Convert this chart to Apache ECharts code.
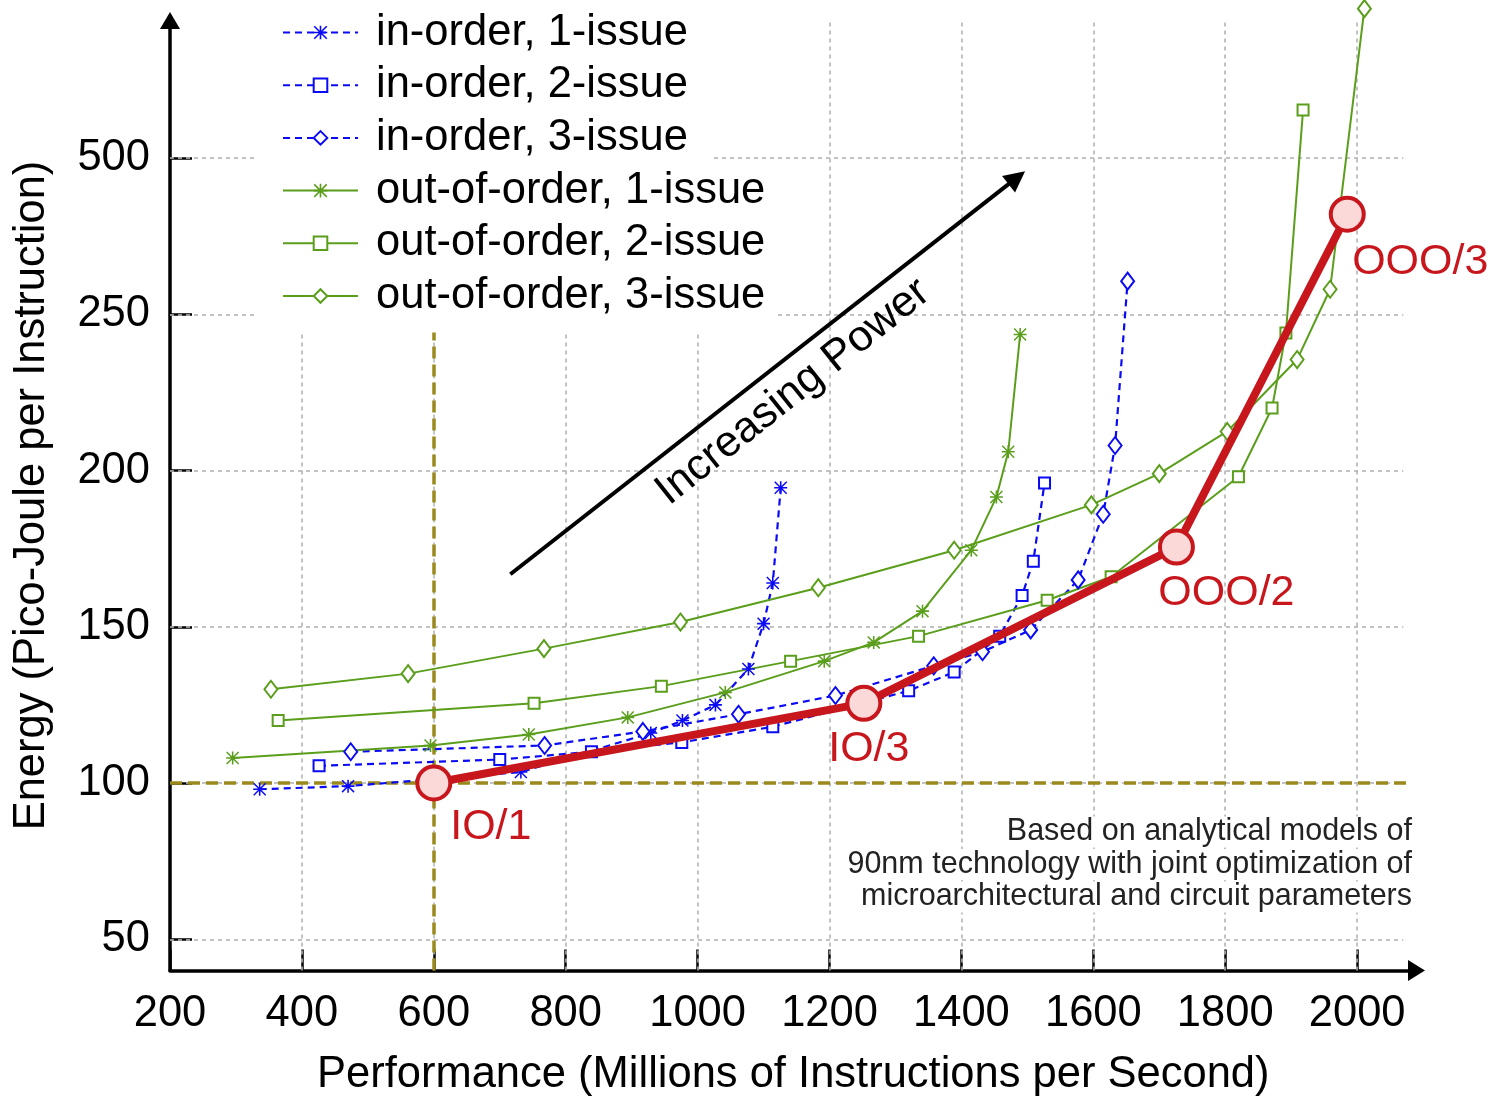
<!DOCTYPE html>
<html><head><meta charset="utf-8">
<script src="https://cdn.jsdelivr.net/npm/echarts@6.0.0/dist/echarts.min.js"></script>
<style>html,body{margin:0;padding:0;background:#fff}#chart{width:1495px;height:1097px}</style>
</head><body><div id="chart"></div>
<script>
// ---- data (MIPS, pJ/instruction) ----
const ioIssue1Mips   = [336, 470, 732, 929, 977, 1027, 1077, 1100, 1114, 1126];
const ioIssue1Energy = [98, 99, 103.5, 116, 120, 125, 136.5, 151, 164, 194.5];
const ioIssue2Mips   = [426, 700, 839, 976, 1114, 1320, 1389, 1458, 1492, 1509, 1526];
const ioIssue2Energy = [105.5, 107.5, 110, 113, 118, 129.5, 135.5, 147, 160, 171, 196];
const ioIssue3Mips   = [474, 768, 917, 1062, 1209, 1358, 1432, 1505, 1577, 1615, 1633, 1652];
const ioIssue3Energy = [110, 112, 116.5, 122, 128, 137.5, 142, 149, 165, 186, 208, 303];
const oooIssue1Mips   = [295, 595, 744, 894, 1042, 1192, 1267, 1341, 1415, 1453, 1471, 1489];
const oooIssue1Energy = [108, 112, 115.5, 121, 129, 139, 145, 155, 174.5, 191.5, 206, 243.5];
const oooIssue2Mips   = [364, 752, 945, 1141, 1335, 1530, 1627, 1820, 1871, 1892, 1918];
const oooIssue2Energy = [120, 125.5, 131, 139, 147, 158.5, 166, 198, 220, 244, 577];
const oooIssue3Mips   = [353, 561, 767, 974, 1183, 1389, 1597, 1700, 1803, 1909, 1959, 2011];
const oooIssue3Energy = [130, 135, 143, 151.5, 162.5, 174.5, 189, 199, 212.5, 235.5, 290, 739];
const designNames  = ['IO/1', 'IO/3', 'OOO/2', 'OOO/3'];
const designMips   = [600, 1252, 1726, 1985];
const designEnergy = [100, 125.5, 175.5, 410];
const seriesNames = ['in-order, 1-issue', 'in-order, 2-issue', 'in-order, 3-issue',
  'out-of-order, 1-issue', 'out-of-order, 2-issue', 'out-of-order, 3-issue'];
const xTicks = [200, 400, 600, 800, 1000, 1200, 1400, 1600, 1800, 2000];
const yTicks = [50, 100, 150, 200, 250, 500];
const refMips = 600, refEnergy = 100;
const arrowFrom = [716, 166.8], arrowTo = [1484, 293.7]; // annotation arrow (axis units)
const arrowText = 'Increasing Power';
const noteLines = ['Based on analytical models of',
  '90nm technology with joint optimization of',
  'microarchitectural and circuit parameters'];

// broken y scale: linear up to 250, 250..500 compressed into one 50 step
function toAxis(v) { return v <= 250 ? v : 250 + (v - 250) / 5; }
function fromAxis(t) { return t <= 250 ? t : 250 + (t - 250) * 5; }
function pairs(xs, ys) { return xs.map((x, i) => [x, toAxis(ys[i])]); }

const X_MIN = 200, X_MAX = 2090, Y_MIN = 40, Y_MAX = 344;
const FONT = 'Liberation Sans, Arial, Helvetica, sans-serif';
const BLUE = '#0a0af5', GREEN = '#5a9e1c', RED = '#c8161d', OLIVE = '#9a8a1e';
const STAR = 'path://M44 0L56 0L56 100L44 100Z M0 44L100 44L100 56L0 56Z M0 8L8 0L100 92L92 100Z M92 0L100 8L8 100L0 92Z';

const yTickAxis = yTicks.map(toAxis);
const gridLines = [];
yTickAxis.forEach(v => gridLines.push([{coord: [X_MIN, v]}, {coord: [2070, v]}]));
xTicks.slice(1).forEach(v => gridLines.push([{coord: [v, Y_MIN]}, {coord: [v, Y_MAX]}]));

function dataSeries(name, xs, ys, color, dashed, symbol, size) {
  const isStar = symbol === STAR;
  return {
    name, type: 'line', data: pairs(xs, ys), clip: false, z: 2,
    symbol, symbolSize: size, showSymbol: true, showAllSymbol: true,
    lineStyle: {color, width: dashed ? 2.2 : 2, type: dashed ? [7, 5] : 'solid'},
    itemStyle: {color, borderColor: color, borderWidth: isStar ? 0 : 2},
    emphasis: {disabled: true}
  };
}

const labelOffsets = [[57, 44], [5, 46], [50, 46], [73, 48]];

const chart = echarts.init(document.getElementById('chart'), null, {renderer: 'canvas'});
chart.setOption({
  animation: false,
  backgroundColor: '#fff',
  textStyle: {fontFamily: FONT},
  grid: {left: 170, right: 78.5, top: 20.5, bottom: 126.5, containLabel: false, outerBoundsMode: 'none'},
  xAxis: {
    type: 'value', min: X_MIN, max: X_MAX,
    name: 'Performance (Millions of Instructions per Second)', nameLocation: 'middle', nameGap: 82,
    nameTextStyle: {fontSize: 43.5, color: '#000', fontFamily: FONT},
    axisLine: {show: true, onZero: false, symbol: ['none', 'triangle'], symbolSize: [21, 17],
      lineStyle: {color: '#000', width: 3.5}},
    axisTick: {show: true, inside: true, length: 21, customValues: xTicks, lineStyle: {color: '#000', width: 2.5}},
    axisLabel: {show: true, customValues: xTicks, fontSize: 43.5, color: '#000', margin: 21, fontFamily: FONT,
      formatter: v => String(v)},
    splitLine: {show: false}
  },
  yAxis: {
    type: 'value', min: Y_MIN, max: Y_MAX,
    name: 'Energy (Pico-Joule per Instruction)', nameLocation: 'middle', nameGap: 116,
    nameTextStyle: {fontSize: 43.5, color: '#000', fontFamily: FONT},
    axisLine: {show: true, onZero: false, symbol: ['none', 'triangle'], symbolSize: [20, 17],
      lineStyle: {color: '#000', width: 3.5}},
    axisTick: {show: true, inside: true, length: 22, customValues: yTickAxis, lineStyle: {color: '#000', width: 2.5}},
    axisLabel: {show: true, customValues: yTickAxis, fontSize: 43.5, color: '#000', margin: 20, fontFamily: FONT,
      formatter: v => String(Math.round(fromAxis(v)))},
    splitLine: {show: false}
  },
  legend: {
    data: seriesNames, orient: 'vertical', left: 282, top: 10.5, padding: 0, itemGap: 8.7,
    itemWidth: 75, itemHeight: 17, selectedMode: false, z: 4,
    textStyle: {fontSize: 43.5, color: '#000', lineHeight: 44, padding: [0, 0, 0, 13], fontFamily: FONT}
  },
  graphic: {elements: [
    {type: 'rect', z: 3, silent: true, shape: {x: 258, y: 0, width: 453, height: 161}, style: {fill: '#fff'}},
    {type: 'rect', z: 3, silent: true, shape: {x: 258, y: 161, width: 517, height: 170}, style: {fill: '#fff'}},
    ...noteLines.map((t, i) => ({
      type: 'text', z: 3, silent: true,
      style: {text: t, x: 1412, y: 832 + i * 32.5, align: 'right', verticalAlign: 'middle',
        fontSize: 30.5, fontFamily: FONT, fill: '#222', backgroundColor: '#fff'}
    })),
    {type: 'text', z: 6, silent: true, x: 793, y: 392, rotation: 38.5 * Math.PI / 180,
      style: {text: arrowText, x: 0, y: 0, align: 'center', verticalAlign: 'middle',
        fontSize: 43.5, fontFamily: FONT, fill: '#000'}}
  ]},
  series: [
    {name: '_grid', type: 'line', data: [], silent: true,
      markLine: {silent: true, z: 1, symbol: ['none', 'none'], label: {show: false}, animation: false,
        lineStyle: {color: '#b4b4b4', width: 1.6, type: [4, 4]}, emphasis: {disabled: true}, data: gridLines}},
    {name: '_ref', type: 'line', data: [], silent: true,
      markLine: {silent: true, z: 1.5, symbol: ['none', 'none'], label: {show: false}, animation: false,
        lineStyle: {color: OLIVE, width: 3.5, type: [12, 6]}, emphasis: {disabled: true},
        data: [
          [{coord: [refMips, Y_MIN]}, {coord: [refMips, 244.2]}],
          [{coord: [X_MIN, refEnergy]}, {coord: [2083, refEnergy]}]
        ]}},
    dataSeries(seriesNames[0], ioIssue1Mips, ioIssue1Energy, BLUE, true, STAR, 13),
    dataSeries(seriesNames[1], ioIssue2Mips, ioIssue2Energy, BLUE, true, 'emptyRect', 11),
    dataSeries(seriesNames[2], ioIssue3Mips, ioIssue3Energy, BLUE, true, 'emptyDiamond', [13, 17]),
    dataSeries(seriesNames[3], oooIssue1Mips, oooIssue1Energy, GREEN, false, STAR, 13),
    dataSeries(seriesNames[4], oooIssue2Mips, oooIssue2Energy, GREEN, false, 'emptyRect', 11),
    dataSeries(seriesNames[5], oooIssue3Mips, oooIssue3Energy, GREEN, false, 'emptyDiamond', [13, 17]),
    {name: '_arrow', type: 'line', data: [], silent: true,
      markLine: {silent: true, z: 6, symbol: ['none', 'triangle'], symbolSize: 21, animation: false,
        lineStyle: {color: '#000', width: 4, type: 'solid'}, emphasis: {disabled: true},
        itemStyle: {color: '#000'},
        label: {show: false},
        data: [[{coord: arrowFrom}, {coord: arrowTo}]]}},
    {name: '_designs', type: 'line', z: 5, clip: false,
      data: designMips.map((x, i) => ({
        value: [x, toAxis(designEnergy[i])],
        label: {show: true, position: 'inside', offset: labelOffsets[i], formatter: designNames[i]}
      })),
      symbol: 'circle', symbolSize: 33,
      lineStyle: {color: RED, width: 8},
      itemStyle: {color: '#fbd9d9', borderColor: RED, borderWidth: 4},
      label: {fontSize: 43, color: RED, fontFamily: FONT},
      emphasis: {disabled: true}}
  ]
});
</script></body></html>
